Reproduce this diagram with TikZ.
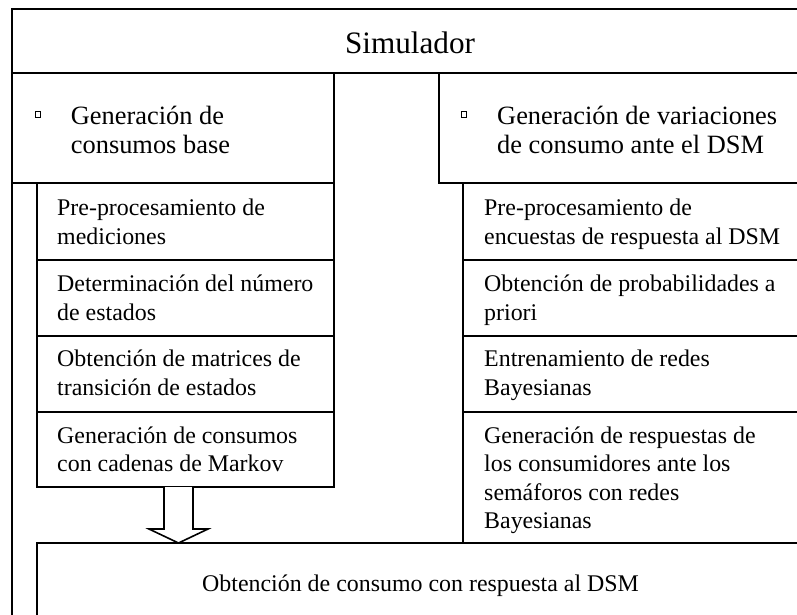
\documentclass[tikz,border=0pt]{standalone}
\usepackage{fontspec}
\setmainfont{Liberation Serif}
\usetikzlibrary{calc}
\tikzset{
  boxn/.style={draw, line width=1.6pt, rectangle, inner sep=0pt, outer sep=0pt, anchor=north west, fill=white},
  bodytxt/.style={anchor=base west, align=left, inner sep=0pt, font=\fontsize{23.9pt}{28.5pt}\selectfont},
  headtxt/.style={anchor=base west, align=left, inner sep=0pt, font=\fontsize{26.4pt}{29pt}\selectfont},
  bul/.style={draw, line width=0.8pt, rectangle, inner sep=0pt, minimum size=5.5pt},
  blockarrow/.style={draw, line width=1.6pt, fill=white, line join=miter}
}
\begin{document}
\begin{tikzpicture}[x=1pt,y=-1pt]
\useasboundingbox (0,0) rectangle (797,614);
\clip (0,0) rectangle (797,614);
\fill[white] (0,0) rectangle (797,614);
% outer frame
\node[boxn, minimum width=900pt, minimum height=700pt] (frame) at (12,9) {};
\node[boxn, minimum width=900pt, minimum height=64pt] (head) at (12,9) {};
\node[anchor=base, inner sep=0pt, font=\fontsize{31.2pt}{36pt}\selectfont] (sim) at (410,53) {Simulador};
% header boxes
\node[boxn, minimum width=322pt, minimum height=110pt] (hl) at (12,73) {};
\node[boxn, minimum width=500pt, minimum height=110pt] (hr) at (439,73) {};
\node[bul] (bl) at (38,114.5) {};
\node[bul] (br) at (464,114.3) {};
\node[headtxt] (hlt) at (70.7,153) {Generación de\\consumos base};
\node[headtxt] (hrt) at (497,153) {Generación de variaciones\\de consumo ante el DSM};
% left column
\node[boxn, minimum width=297pt, minimum height=77pt] (l1) at (37,183) {};
\node[boxn, minimum width=297pt, minimum height=76pt] (l2) at (37,260) {};
\node[boxn, minimum width=297pt, minimum height=76pt] (l3) at (37,336) {};
\node[boxn, minimum width=297pt, minimum height=75pt] (l4) at (37,412) {};
\node[bodytxt] (l1t) at (57,244.2) {Pre-procesamiento de\\mediciones};
\node[bodytxt] (l2t) at (57,320.2) {Determinación del número\\de estados};
\node[bodytxt] (l3t) at (57,395.2) {Obtención de matrices de\\transición de estados};
\node[bodytxt] (l4t) at (57,471.5) {Generación de consumos\\con cadenas de Markov};
% right column
\node[boxn, minimum width=500pt, minimum height=77pt] (r1) at (463,183) {};
\node[boxn, minimum width=500pt, minimum height=76pt] (r2) at (463,260) {};
\node[boxn, minimum width=500pt, minimum height=76pt] (r3) at (463,336) {};
\node[boxn, minimum width=500pt, minimum height=131pt] (r4) at (463,412) {};
\node[bodytxt] (r1t) at (484,244.2) {Pre-procesamiento de\\encuestas de respuesta al DSM};
\node[bodytxt] (r2t) at (484,320.2) {Obtención de probabilidades a\\priori};
\node[bodytxt] (r3t) at (484,395.2) {Entrenamiento de redes\\Bayesianas};
\node[bodytxt] (r4t) at (484,528.5) {Generación de respuestas de\\los consumidores ante los\\semáforos con redes\\Bayesianas};
% bottom box
\node[boxn, minimum width=900pt, minimum height=200pt] (bot) at (37,543) {};
\node[anchor=base west, inner sep=0pt, font=\fontsize{23.9pt}{28.5pt}\selectfont] (bott) at (202,591) {Obtención de consumo con respuesta al DSM};
% block arrow
\draw[blockarrow] ($(l4.south west)+(127,0)$) -- ($(l4.south west)+(127,42)$) -- ($(l4.south west)+(112,42)$)
  -- ($(bot.north west)+(141.5,0)$) -- ($(l4.south west)+(171,42)$) -- ($(l4.south west)+(156,42)$) -- ($(l4.south west)+(156,0)$);
\end{tikzpicture}
\end{document}
